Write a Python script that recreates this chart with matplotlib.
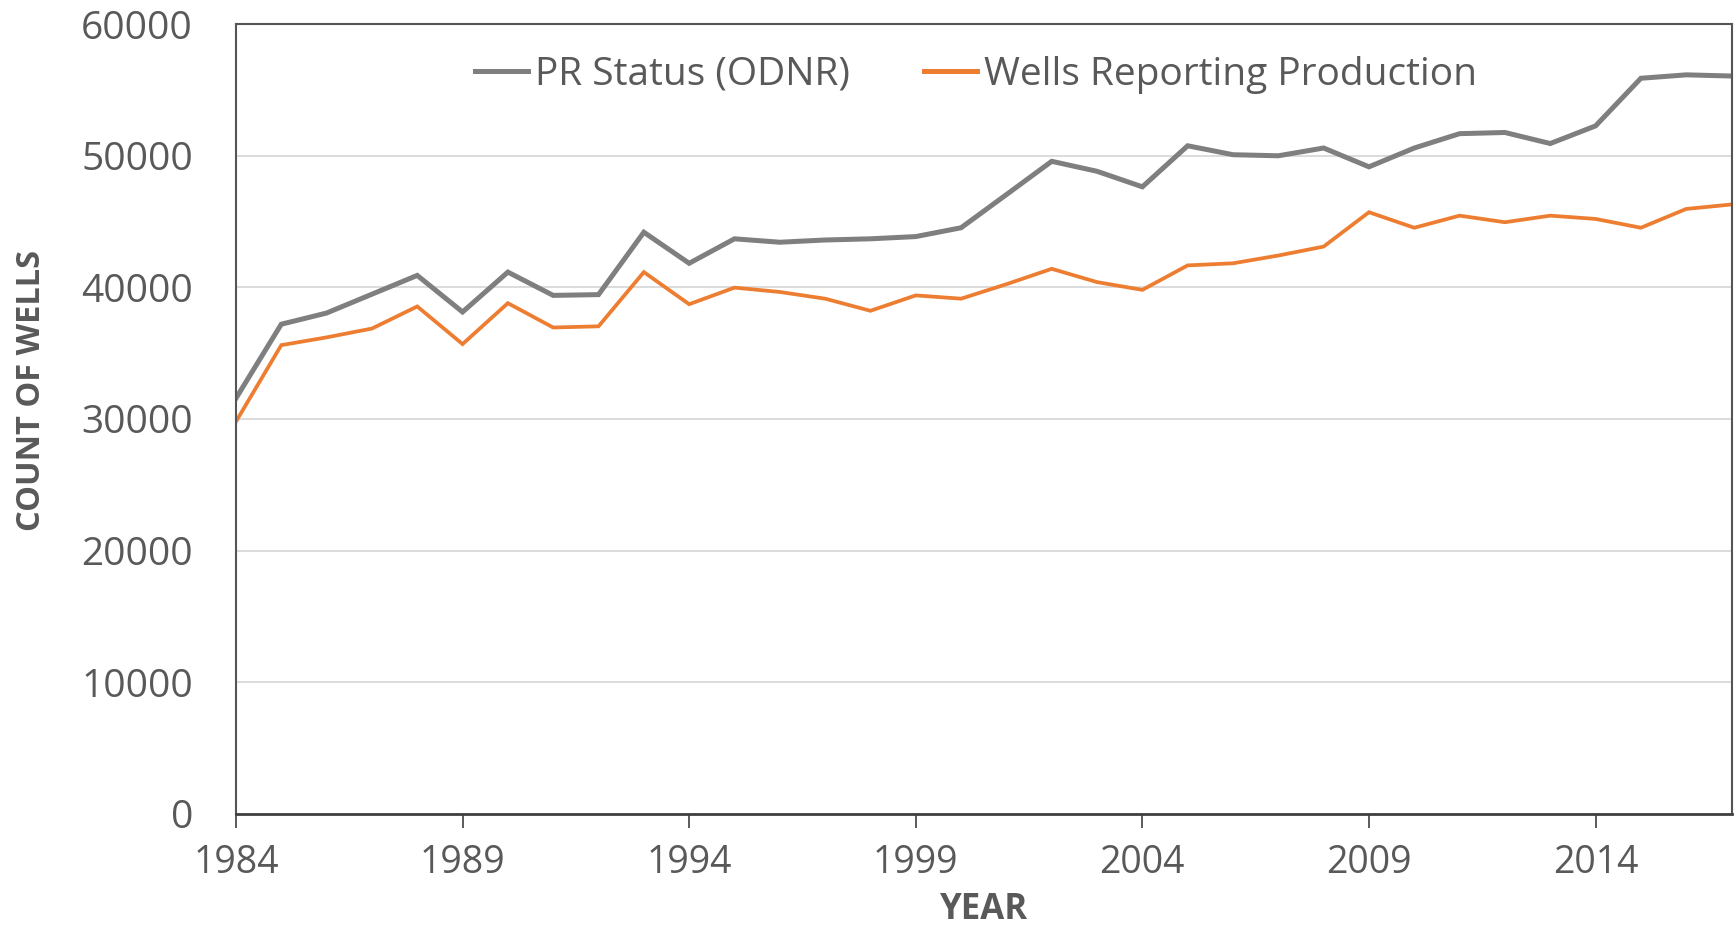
import matplotlib
matplotlib.use("Agg")
import matplotlib.pyplot as plt

years = list(range(1984, 2018))
pr_status = [31570, 37200, 38050, 39480, 40910, 38130, 41160, 39390, 39450, 44190,
             41830, 43690, 43430, 43600, 43690, 43860, 44530, 47050, 49580, 48820,
             47640, 50760, 50080, 50000, 50590, 49160, 50590, 51680, 51770, 50930,
             52270, 55890, 56150, 56060]
reporting = [29800, 35610, 36200, 36870, 38550, 35690, 38800, 36950, 37040, 41160,
             38720, 39980, 39650, 39140, 38220, 39390, 39140, 40240, 41410, 40400,
             39810, 41670, 41830, 42420, 43100, 45710, 44530, 45450, 44950, 45450,
             45200, 44530, 45960, 46300]
xticks = [1984, 1989, 1994, 1999, 2004, 2009, 2014]
yticks = [0, 10000, 20000, 30000, 40000, 50000, 60000]

plt.rcParams['font.family'] = ['Open Sans', 'DejaVu Sans']
txt = '#595959'

fig = plt.figure(figsize=(17.35, 9.3), dpi=100)
ax = fig.add_axes([0.136, 0.125, 0.862, 0.849])

ax.plot(years, pr_status, color='#7f7f7f', lw=3.6, label='PR Status (ODNR)', solid_joinstyle='miter')
ax.plot(years, reporting, color='#ed7d31', lw=2.7, label='Wells Reporting Production', solid_joinstyle='miter')

ax.set_xlim(1984, 2017)
ax.set_ylim(0, 60000)
ax.set_xticks(xticks)
ax.set_yticks(yticks)
ax.set_xticklabels([str(t) for t in xticks])
ax.set_yticklabels([str(t) for t in yticks])
ax.tick_params(axis='x', length=10, width=1.2, color='#404040', labelsize=27, labelcolor=txt, pad=12, direction='out')
ax.tick_params(axis='y', length=0, labelsize=28, labelcolor=txt, pad=31)

ax.grid(axis='y', color='#d9d9d9', lw=1.3)
ax.set_axisbelow(True)
for s in ['top', 'right', 'left']:
    ax.spines[s].set_color('#555555')
    ax.spines[s].set_linewidth(1.5)
ax.spines['bottom'].set_color('#404040')
ax.spines['bottom'].set_linewidth(2)

ax.set_xlabel('YEAR', fontsize=25, fontweight='bold', color=txt, labelpad=7)
fig.text(0.018, 0.58, 'COUNT OF WELLS', rotation=90, fontsize=23.5, fontweight='bold',
         color=txt, ha='center', va='center')

leg = ax.legend(loc='center', bbox_to_anchor=(0.495, 0.936), ncol=2, frameon=False,
                fontsize=28, handlelength=1.35, handletextpad=0.2, columnspacing=1.9)
for t in leg.get_texts():
    t.set_color(txt)
for h in leg.get_lines():
    h.set_linewidth(3.6)

fig.savefig('out.png', dpi=100)
